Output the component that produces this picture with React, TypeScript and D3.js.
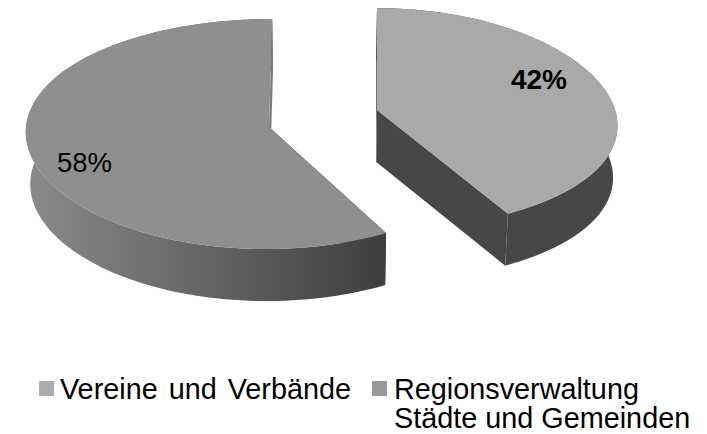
import { useEffect, useRef } from "react"
import * as d3 from "d3"

const categories = ["Vereine und Verbände", "Regionsverwaltung"]
const legendExtra = "Städte und Gemeinden"
const values = [42, 58]
const labels = ["42%", "58%"]
const topColors = ["#a9a9a9", "#8f8f8f"]
const legendColors = ["#adadad", "#999999"]

const width = 707
const height = 434
const vanishX = 325
const depth = 52
const shrink = 0.985

// one entry per slice, the exploded pieces do not project quite the same
const views = [
  { cx: 377, cy: 110, rx: 238, ry: 110, kx: 0.142, ky: 0.08, vanish: 377 },
  { cx: 269, cy: 127, rx: 243, ry: 114.6, kx: 0.03, ky: 0.061, vanish: vanishX },
]

export default function App() {
  const svgRef = useRef<SVGSVGElement | null>(null)

  useEffect(() => {
    if (!svgRef.current) return
    const svg = d3.select(svgRef.current)
    svg.selectAll("*").remove()

    const defs = svg.append("defs")
    const grad = defs
      .append("linearGradient")
      .attr("id", "wall")
      .attr("gradientUnits", "userSpaceOnUse")
      .attr("x1", 30)
      .attr("x2", 385)
      .attr("y1", 0)
      .attr("y2", 0)
    grad.append("stop").attr("offset", 0).attr("stop-color", "#8a8a8a")
    grad.append("stop").attr("offset", 1).attr("stop-color", "#3e3e3e")

    const arcs = d3.pie<number>().sort(null)(values)
    const line = d3.line().curve(d3.curveLinear)

    arcs.forEach((arc, i) => {
      const v = views[i]

      // circle point on the pie plane -> screen, with a bit of perspective
      const project = (angle: number, r: number, lower: boolean): [number, number] => {
        const u = Math.sin(angle) * r
        const w = -Math.cos(angle) * r
        const sy = 1 / (1 - v.ky * w)
        const sx = 1 / (1 - v.kx * w)
        let x = v.cx + v.rx * u * sx + (v.cx - v.vanish) * (sy - 1)
        let y = v.cy + v.ry * w * sy
        if (lower) {
          x = vanishX + (x - vanishX) * shrink
          y += depth
        }
        return [x, y]
      }

      const steps = d3.range(0, 121).map((n) => arc.startAngle + ((arc.endAngle - arc.startAngle) * n) / 120)
      const rim = (lower: boolean) => steps.map((a) => project(a, 1, lower))
      const centerTop = project(0, 0, false)
      const centerBottom = project(0, 0, true)
      const wallFill = i === 0 ? "#474747" : "url(#wall)"
      const g = svg.append("g")

      // cut face at the start of the slice
      g.append("path")
        .attr("d", line([centerTop, rim(false)[0], rim(true)[0], centerBottom]) + "Z")
        .attr("fill", i === 0 ? "#474747" : "#3e3e3e")

      // outer wall
      g.append("path")
        .attr("d", line([...rim(false), ...rim(true).reverse()]) + "Z")
        .attr("fill", wallFill)

      // cut face at the end of the slice
      g.append("path")
        .attr("d", line([centerTop, rim(false)[120], rim(true)[120], centerBottom]) + "Z")
        .attr("fill", i === 0 ? "#474747" : "#7c7c7c")

      // top face
      g.append("path")
        .attr("d", line([centerTop, ...rim(false)]) + "Z")
        .attr("fill", topColors[i])
    })

    const font = "'Liberation Sans', Arial, sans-serif"

    svg
      .append("text")
      .attr("x", 539)
      .attr("y", 89)
      .attr("text-anchor", "middle")
      .attr("font-family", font)
      .attr("font-size", 28)
      .attr("font-weight", "bold")
      .attr("fill", "#000")
      .text(labels[0])
    svg
      .append("text")
      .attr("x", 84.5)
      .attr("y", 172)
      .attr("text-anchor", "middle")
      .attr("font-family", font)
      .attr("font-size", 27.5)
      .attr("fill", "#000")
      .text(labels[1])

    // legend
    const legendX = [39, 372]
    const legendFont = 28.8
    categories.forEach((name, i) => {
      svg
        .append("rect")
        .attr("x", legendX[i])
        .attr("y", 381)
        .attr("width", 15)
        .attr("height", 15)
        .attr("fill", legendColors[i])
      svg
        .append("text")
        .attr("x", i === 0 ? 60 : 394)
        .attr("y", 399)
        .attr("font-family", font)
        .attr("font-size", legendFont)
        .attr("word-spacing", i === 0 ? 3 : 0)
        .attr("fill", "#000")
        .text(name)
    })
    svg
      .append("text")
      .attr("x", 394)
      .attr("y", 427.8)
      .attr("font-family", font)
      .attr("font-size", legendFont)
      .attr("fill", "#000")
      .text(legendExtra)
  }, [])

  return (
    <div style={{ position: "absolute", left: 0, top: 0 }}>
      <svg ref={svgRef} width={width} height={height} style={{ display: "block" }}></svg>
    </div>
  )
}
